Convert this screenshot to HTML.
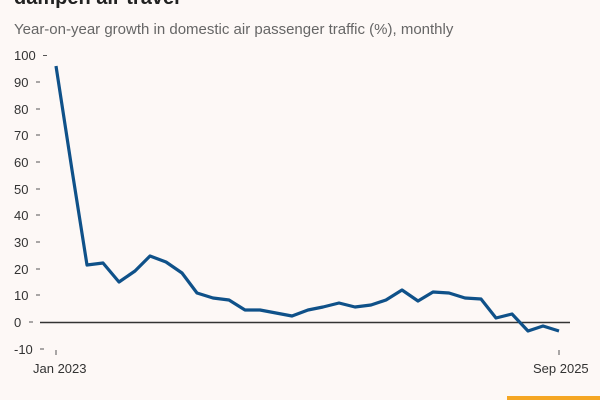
<!DOCTYPE html>
<html><head><meta charset="utf-8"><style>
html,body{margin:0;padding:0;background:#fdf8f6;}
body{width:600px;height:400px;overflow:hidden;position:relative;font-family:"Liberation Sans",sans-serif;}
</style></head><body>
<svg width="600" height="400" viewBox="0 0 600 400" style="position:absolute;left:0;top:0">
<text x="14" y="4" font-size="20" font-weight="bold" fill="#222">dampen air travel</text>
<text x="14" y="34" font-size="15" fill="#666">Year-on-year growth in domestic air passenger traffic (%), monthly</text>
<g font-size="13" fill="#333">
<text x="14" y="60">100</text><line x1="43" x2="47" y1="55.5" y2="55.5" stroke="#555"/>
<text x="14" y="87">90</text><line x1="36" x2="40" y1="82" y2="82" stroke="#555"/>
<text x="14" y="114">80</text><line x1="36" x2="40" y1="109" y2="109" stroke="#555"/>
<text x="14" y="140">70</text><line x1="36" x2="40" y1="135" y2="135" stroke="#555"/>
<text x="14" y="167">60</text><line x1="36" x2="40" y1="162" y2="162" stroke="#555"/>
<text x="14" y="194">50</text><line x1="36" x2="40" y1="189" y2="189" stroke="#555"/>
<text x="14" y="220">40</text><line x1="36" x2="40" y1="215" y2="215" stroke="#555"/>
<text x="14" y="247">30</text><line x1="36" x2="40" y1="242" y2="242" stroke="#555"/>
<text x="14" y="274">20</text><line x1="36" x2="40" y1="269" y2="269" stroke="#555"/>
<text x="14" y="300">10</text><line x1="36" x2="40" y1="295" y2="295" stroke="#555"/>
<text x="14" y="327">0</text><line x1="29" x2="33" y1="322" y2="322" stroke="#555"/>
<text x="14" y="354">-10</text><line x1="40" x2="44" y1="349" y2="349" stroke="#555"/>
<text x="33" y="373">Jan 2023</text>
<text x="533" y="373">Sep 2025</text>
</g>
<line x1="56" x2="56" y1="350" y2="355" stroke="#555"/>
<line x1="559" x2="559" y1="350" y2="355" stroke="#555"/>
<line x1="40" x2="570" y1="322.5" y2="322.5" stroke="#333" stroke-width="1.5"/>
<polyline fill="none" stroke="#0f5189" stroke-width="3.2" stroke-linejoin="round" points="56,66 72,170 87,265 103,263 119,282 135,271 150,256 166,262 182,273 197,293 213,298 229,300 245,310 260,310 276,313 292,316 308,310 323,307 339,303 355,307 371,305 386,300 402,290 418,301 433,292 449,293 465,298 481,299 496,318 512,314 528,331 543,326 559,331"/>
<rect x="507" y="396" width="93" height="4" fill="#f5a623"/>
</svg>
</body></html>
